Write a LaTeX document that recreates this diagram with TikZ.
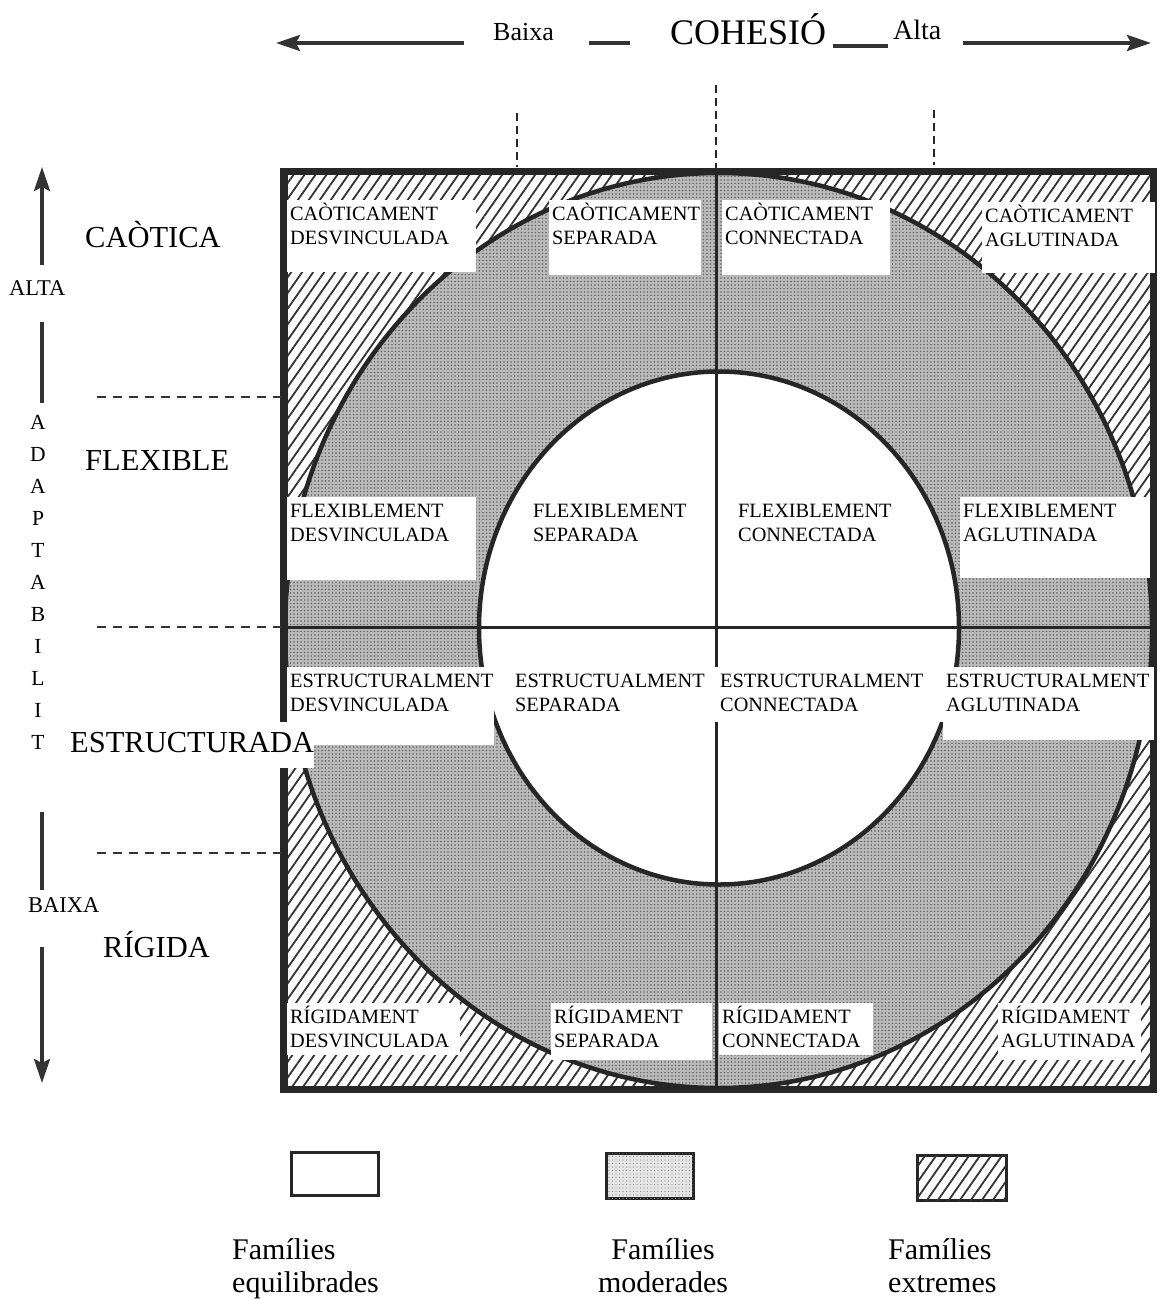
\documentclass[tikz,border=0pt]{standalone}
\usepackage{fontspec}
\setmainfont{Liberation Serif}
\usetikzlibrary{arrows.meta, patterns.meta}

\newcommand{\cellbox}[3]{\parbox[t][#2][t]{#1}{\raggedright\hyphenpenalty=10000\strut #3}}

\begin{document}
\begin{tikzpicture}[
      x=1pt, y=-1pt,
      frame/.style={line width=5pt, draw=black!85},
      ring/.style={line width=4.5pt, draw=black!85},
      cross/.style={line width=3pt, draw=black!85},
      hatch/.style={pattern={Lines[angle=55, distance=9pt, line width=1.8pt]}, pattern color=black!80},
      halftone/.style={fill=black!27, postaction={pattern={Dots[distance=3.5pt, radius=0.8pt]}, pattern color=black!60}},
      cell/.style={fill=white, anchor=north west, inner xsep=3pt, inner ysep=3pt, font=\fontsize{20.3}{24}\selectfont},
      biglabel/.style={anchor=base west, inner sep=0pt, font=\fontsize{30.5}{36}\selectfont},
      smalllabel/.style={anchor=base west, inner sep=0pt, font=\fontsize{22.5}{26}\selectfont},
      tick/.style={line width=2pt, draw=black!85, dash pattern=on 8pt off 5pt},
      level/.style={line width=2.5pt, draw=black!80, dash pattern=on 9pt off 7pt},
      axis/.style={line width=3.5pt, draw=black!80},
      tip/.style={-{Stealth[length=24pt, width=16pt, inset=4pt]}},
      key/.style={line width=3pt, draw=black!85},
      keytext/.style={inner sep=0pt, font=\fontsize{30}{33}\selectfont}
      ]
      \useasboundingbox (0,0) rectangle (1159,1300);

      % Regions
      \fill[white] (285,173) rectangle (1152,1088);
      \fill[hatch] (285,173) rectangle (1152,1088);
      \path[halftone] (718.5,630.5) ellipse [x radius=433.5, y radius=457.5];
      \fill[white] (719,628) ellipse [x radius=240, y radius=256.5];
      \draw[ring] (718.5,630.5) ellipse [x radius=433.5, y radius=457.5];
      \draw[ring] (719,628) ellipse [x radius=240, y radius=256.5];

      % Grid
      \coordinate (mid) at (716,627);
      \node[frame, minimum width=867pt, minimum height=915pt, inner sep=0pt] (grid) at (718.5,630.5) {};
      \draw[cross] (grid.north -| mid) -- (grid.south -| mid);
      \draw[cross] (grid.west |- mid) -- (grid.east |- mid);
      \draw[frame] (grid.north west) rectangle (grid.south east);

      % Cells
      \node[cell] (cdes) at (287,200) {\cellbox{183pt}{66pt}{CAÒTICAMENT\\DESVINCULADA}};
      \node[cell] (csep) at (549,200) {\cellbox{146pt}{69pt}{CAÒTICAMENT\\SEPARADA}};
      \node[cell] (ccon) at (722,200) {\cellbox{162pt}{69pt}{CAÒTICAMENT\\CONNECTADA}};
      \node[cell] (cagl) at (982,202) {\cellbox{167pt}{65pt}{CAÒTICAMENT\\AGLUTINADA}};

      \node[cell] (fdes) at (287,497) {\cellbox{183pt}{77pt}{FLEXIBLEMENT\\DESVINCULADA}};
      \node[cell] (fsep) at (530,497) {\cellbox{164pt}{54pt}{FLEXIBLEMENT\\SEPARADA}};
      \node[cell] (fcon) at (735,497) {\cellbox{179pt}{54pt}{FLEXIBLEMENT\\CONNECTADA}};
      \node[cell] (fagl) at (960,497) {\cellbox{184pt}{75pt}{FLEXIBLEMENT\\AGLUTINADA}};

      \node[cell] (edes) at (287,667) {\cellbox{201pt}{72pt}{ESTRUCTURALMENT\\DESVINCULADA}};
      \node[cell] (esep) at (512,667) {\cellbox{199pt}{49pt}{ESTRUCTUALMENT\\SEPARADA}};
      \node[cell] (econ) at (717,667) {\cellbox{223pt}{49pt}{ESTRUCTURALMENT\\CONNECTADA}};
      \node[cell] (eagl) at (943,667) {\cellbox{205pt}{67pt}{ESTRUCTURALMENT\\AGLUTINADA}};

      \node[cell] (rdes) at (287,1003) {\cellbox{167pt}{46pt}{RÍGIDAMENT\\DESVINCULADA}};
      \node[cell] (rsep) at (551,1003) {\cellbox{155pt}{51pt}{RÍGIDAMENT\\SEPARADA}};
      \node[cell] (rcon) at (719,1003) {\cellbox{148pt}{46pt}{RÍGIDAMENT\\CONNECTADA}};
      \node[cell] (ragl) at (998,1003) {\cellbox{137pt}{51pt}{RÍGIDAMENT\\AGLUTINADA}};

      % Cohesion axis
      \node[anchor=base west, inner sep=0pt, font=\fontsize{26}{30}\selectfont] (low) at (493,41) {Baixa};
      \node[anchor=base west, inner sep=0pt, font=\fontsize{36}{40}\selectfont] (cohesio) at (670,45) {COHESIÓ};
      \node[anchor=base west, inner sep=0pt, font=\fontsize{28}{32}\selectfont] (high) at (893,40) {Alta};
      \coordinate (cl1) at (464,43); \coordinate (cl2) at (276,43);
      \coordinate (cr1) at (963,43); \coordinate (cr2) at (1151,43);
      \draw[axis, tip] (cl1) -- (cl2);
      \draw[axis, tip] (cr1) -- (cr2);
      \draw[axis] (589,43) -- (630,43);
      \draw[axis] (833,46) -- (888,46);
      \draw[tick] (517,113) -- (517,167);
      \draw[tick] (716,85) -- (grid.north -| mid);
      \draw[tick] (934,110) -- (934,165);

      % Adaptability axis
      \node[biglabel] (caotica) at (85,247) {CAÒTICA};
      \node[biglabel] (flexible) at (85,470) {FLEXIBLE};
      \node[biglabel, fill=white, text height=30pt, text depth=16pt] (estruct) at (70,752) {ESTRUCTURADA\hspace{14pt}};
      \node[biglabel] (rigida) at (103,957) {RÍGIDA};
      \node[smalllabel] (alta) at (9,295) {ALTA};
      \node[smalllabel] (baixa) at (28,912) {BAIXA};
      \node[anchor=north, align=center, inner sep=0pt, font=\fontsize{21.5}{32}\selectfont] (adapt) at (38,415) {A\\D\\A\\P\\T\\A\\B\\I\\L\\I\\T};
      \coordinate (au1) at (42,265); \coordinate (au2) at (42,167);
      \coordinate (au3) at (42,322); \coordinate (au4) at (42,403);
      \coordinate (ad1) at (42,812); \coordinate (ad2) at (42,890);
      \coordinate (ad3) at (42,947); \coordinate (ad4) at (42,1083);
      \draw[axis, tip] (au1) -- (au2);
      \draw[axis] (au3) -- (au4);
      \draw[axis] (ad1) -- (ad2);
      \draw[axis, tip] (ad3) -- (ad4);
      \draw[level] (97,397) -- (grid.west |- {(0,397)});
      \draw[level] (97,627) -- (grid.west |- mid);
      \draw[level] (97,853) -- (grid.west |- {(0,853)});

      % Legend
      \draw[key] (291,1152) rectangle (378,1195);
      \draw[key, fill=black!10, postaction={pattern={Dots[distance=3.5pt, radius=0.6pt]}, pattern color=black!45}] (606,1153) rectangle (693,1198);
      \draw[key, fill=white, postaction={hatch}] (917,1155) rectangle (1006,1200);
      \node[keytext, anchor=north west, align=left] (equil) at (232,1238) {Famílies\\equilibrades};
      \node[keytext, anchor=north, align=center] (moder) at (663,1238) {Famílies\\moderades};
      \node[keytext, anchor=north west, align=left] (extrem) at (888,1238) {Famílies\\extremes};
    \end{tikzpicture}
\end{document}
